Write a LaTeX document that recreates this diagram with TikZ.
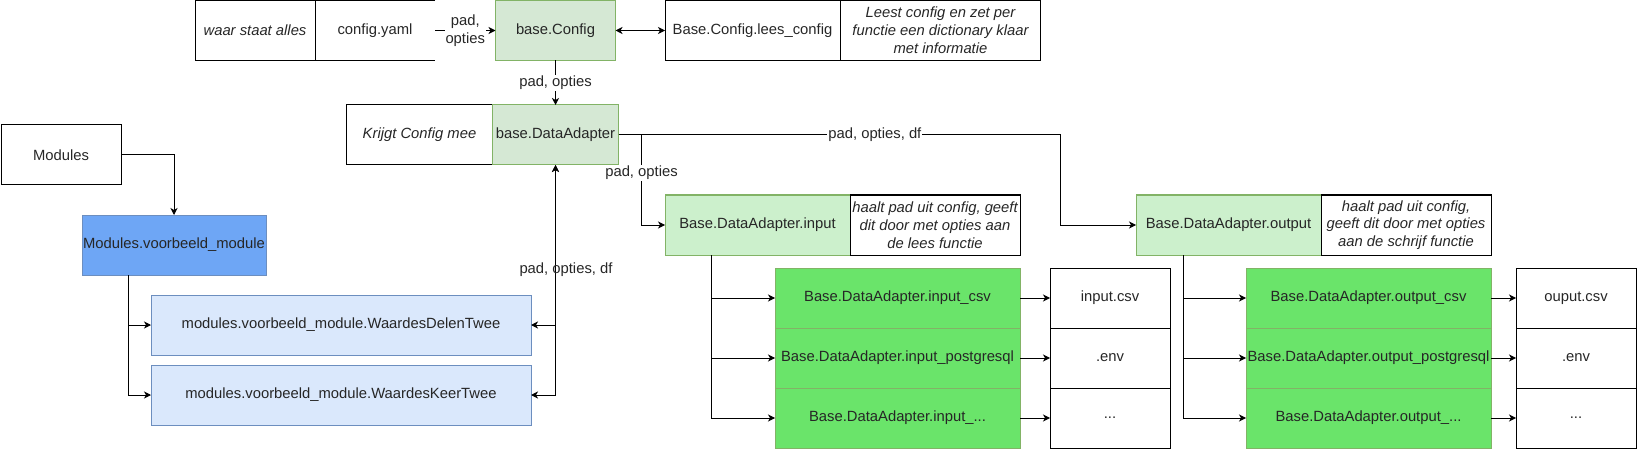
\documentclass[tikz,border=0pt]{standalone}
\usepackage{fontspec}
\setmainfont{Liberation Sans}
\usetikzlibrary{arrows.meta}
\definecolor{gfill}{HTML}{D5E8D4}
\definecolor{gstroke}{HTML}{82B366}
\definecolor{g2fill}{HTML}{CCF0CC}
\definecolor{g3fill}{HTML}{6AE46A}
\definecolor{bfill}{HTML}{6EA6F5}
\definecolor{bstroke}{HTML}{6C8EBF}
\definecolor{lbfill}{HTML}{DAE8FC}
\begin{document}
\begin{tikzpicture}[x=1pt,y=-1pt,
  font=\fontsize{14.8}{17.8}\selectfont,
  box/.style={draw=black, line width=1pt, inner sep=1pt, outer sep=0pt, align=center, text=black!85, minimum height=60},
  gbox/.style={box, fill=gfill, draw=gstroke},
  g2box/.style={box, fill=g2fill, draw=gstroke},
  g3box/.style={box, fill=g3fill, draw=gstroke},
  bbox/.style={box, fill=bfill, draw=bstroke},
  lbbox/.style={box, fill=lbfill, draw=bstroke},
  ln/.style={line width=1pt, draw=black},
  arr/.style={ln, -{Stealth[length=7pt,width=7pt,inset=2pt]}},
  darr/.style={ln, {Stealth[length=7pt,width=7pt,inset=2pt]}-{Stealth[length=7pt,width=7pt,inset=2pt]}},
  lbl/.style={fill=white, inner sep=1pt, align=center, text=black!85}
]
\useasboundingbox (0,0) rectangle (1637,449);

% top row
\node[box, minimum width=120] (waar) at (255,30.5) {\itshape waar staat alles};
\node[box, draw=none, minimum width=120] (cy) at (375,30.5) {config.yaml};
\draw[ln] (cy.north east) -- (cy.north west) -- (cy.south west) -- (cy.south east);
\node[gbox, minimum width=120] (bc) at (555.5,30.5) {base.Config};
\node[box, minimum width=175] (lc) at (752.5,30.5) {Base.Config.lees\_config};
\node[box, minimum width=200] (lci) at (940.5,30.5) {\itshape Leest config en zet per\\\itshape functie een dictionary klaar\\\itshape met informatie};

% data adapter
\node[box, minimum width=146] (kr) at (419.5,135) {\itshape Krijgt Config mee};
\node[gbox, minimum width=126] (da) at (555.5,135) {base.DataAdapter};

% modules
\node[box, minimum width=120] (mod) at (61,155) {Modules};
\node[bbox, minimum width=184] (vb) at (174,245) {Modules.voorbeeld\_module};
\node[lbbox, minimum width=380] (wdt) at (341,325) {modules.voorbeeld\_module.WaardesDelenTwee};
\node[lbbox, minimum width=380] (wkt) at (341,395) {modules.voorbeeld\_module.WaardesKeerTwee};

% input
\node[g2box, minimum width=185] (din) at (757.5,225) {Base.DataAdapter.input};
\node[box, minimum width=170] (dini) at (935,225) {\itshape haalt pad uit config, geeft\\\itshape dit door met opties aan\\\itshape de lees functie};
\node[g3box, minimum width=245] (ic1) at (897.5,298) {Base.DataAdapter.input\_csv};
\node[g3box, minimum width=245] (ic2) at (897.5,358) {Base.DataAdapter.input\_postgresql};
\node[g3box, minimum width=245] (ic3) at (897.5,418) {Base.DataAdapter.input\_...};
\node[box, minimum width=120] (if1) at (1110,298) {input.csv};
\node[box, minimum width=120] (if2) at (1110,358) {.env};
\node[box, minimum width=120] (if3) at (1110,418) {...};

% output
\node[g2box, minimum width=185] (dout) at (1228.5,225) {Base.DataAdapter.output};
\node[box, minimum width=170] (douti) at (1406,225) {\itshape haalt pad uit config,\\\itshape geeft dit door met opties\\\itshape aan de schrijf functie};
\node[g3box, minimum width=245] (oc1) at (1368.5,298) {Base.DataAdapter.output\_csv};
\node[g3box, minimum width=245] (oc2) at (1368.5,358) {Base.DataAdapter.output\_postgresql};
\node[g3box, minimum width=245] (oc3) at (1368.5,418) {Base.DataAdapter.output\_...};
\node[box, minimum width=120] (of1) at (1576,298) {ouput.csv};
\node[box, minimum width=120] (of2) at (1576,358) {.env};
\node[box, minimum width=120] (of3) at (1576,418) {...};

% connectors top
\draw[arr] (cy.east) -- node[lbl]{pad,\\opties} (bc.west);
\draw[darr] (bc.east) -- (lc.west);
\draw[arr] (bc.south) -- node[lbl]{pad, opties} (da.north);

% data adapter to output
\coordinate (t1) at (1060.5,135);
\draw[arr] (da.east) -- node[lbl, pos=0.58]{pad, opties, df} (t1) |- (dout.west);
% data adapter to input
\coordinate (b1) at (641.5,135);
\draw[arr] (da.east) -- (b1) -- node[lbl, pos=0.42]{pad, opties} (b1 |- din.west) -- (din.west);

% modules
\draw[arr] (mod.east) -| (vb.north);
\coordinate (v1) at (128,275);
\draw[arr] (v1) |- (wdt.west);
\draw[arr] (v1) |- (wkt.west);
\draw[darr] (wkt.east) -| (da.south);
\draw[darr] (wdt.east) -| node[pos=0.672, xshift=10.5, inner sep=0pt, text=black!85]{pad, opties, df} (da.south);

% input branches
\coordinate (v2) at (711.5,255);
\draw[arr] (v2) |- (ic1.west);
\draw[arr] (v2) |- (ic2.west);
\draw[arr] (v2) |- (ic3.west);
\draw[arr] (ic1.east) -- (if1.west);
\draw[arr] (ic2.east) -- (if2.west);
\draw[arr] (ic3.east) -- (if3.west);

% output branches
\coordinate (v3) at (1183,255);
\draw[arr] (v3) |- (oc1.west);
\draw[arr] (v3) |- (oc2.west);
\draw[arr] (v3) |- (oc3.west);
\draw[arr] (oc1.east) -- (of1.west);
\draw[arr] (oc2.east) -- (of2.west);
\draw[arr] (oc3.east) -- (of3.west);
\end{tikzpicture}
\end{document}
